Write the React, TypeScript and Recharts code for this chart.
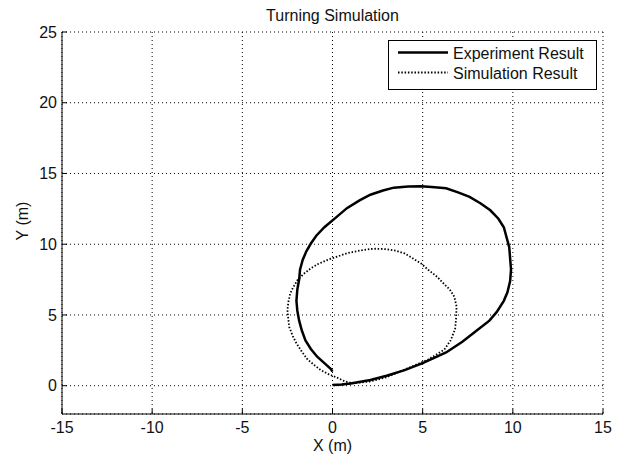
import React from "react";
import {
  CartesianGrid,
  Scatter,
  ScatterChart,
  XAxis,
  YAxis,
} from "recharts";

// experiment trajectory (m)
const expX = [0, 0.5, 1, 2.1, 3, 4, 5, 6.3, 7.2, 8, 8.7, 9.1, 9.5, 9.7, 9.85, 9.9, 9.85, 9.8, 9.5, 9.2, 8.75, 8.2, 7.6, 7, 6.3, 5.5, 4.9, 4.2, 3.4, 2.8, 2.1, 1.5, 0.8, 0.2, -0.45, -0.9, -1.2, -1.45, -1.65, -1.8, -1.85, -1.95, -2, -1.95, -1.85, -1.7, -1.5, -1.2, -0.85, -0.45, -0.1, 0];
const expY = [0.05, 0.08, 0.15, 0.4, 0.7, 1.1, 1.6, 2.35, 3.1, 3.9, 4.6, 5.2, 6, 6.6, 7.4, 8.2, 9, 9.8, 11.2, 11.8, 12.4, 12.9, 13.35, 13.65, 13.95, 14.05, 14.1, 14.08, 14, 13.8, 13.5, 13.1, 12.55, 11.9, 11.2, 10.6, 10.05, 9.5, 8.9, 8.2, 7.5, 6.8, 6, 5.3, 4.6, 3.9, 3.2, 2.6, 2.05, 1.6, 1.2, 1];

// simulated trajectory (m)
const simX = [0.2, 1, 2.1, 3, 4.3, 5.3, 6.2, 6.55, 6.8, 6.85, 6.88, 6.75, 6.5, 6.1, 5.8, 5.3, 4.9, 4.4, 4, 3.5, 3, 2.4, 2.1, 1.5, 0.8, 0.2, -0.3, -0.8, -1.2, -1.6, -1.95, -2.2, -2.35, -2.45, -2.5, -2.45, -2.4, -2.2, -2, -1.7, -1.38, -1, -0.65, -0.2, 0.28, 0.7, 1.1];
const simY = [0.02, 0.15, 0.3, 0.6, 1.3, 1.85, 2.55, 3.2, 4, 4.7, 5.6, 6.3, 6.8, 7.3, 7.7, 8.2, 8.65, 9.05, 9.35, 9.55, 9.65, 9.68, 9.66, 9.55, 9.36, 9.1, 8.88, 8.6, 8.3, 7.9, 7.45, 6.9, 6.5, 5.9, 5.35, 4.7, 4.15, 3.5, 3, 2.4, 1.85, 1.45, 1.1, 0.8, 0.55, 0.3, 0.18];

const xTicks = [-15, -10, -5, 0, 5, 10, 15];
const yTicks = [0, 5, 10, 15, 20, 25];

const expData = expX.map((x, i) => ({ x, y: expY[i] }));
const simData = simX.map((x, i) => ({ x, y: simY[i] }));

const font = "'Liberation Sans', Arial, sans-serif";
const tickStyle = { fill: "#111", fontSize: 16, fontFamily: font };
const noDot = () => <g />;

export default function App() {
  return (
    <div style={{ position: "absolute", left: 0, top: 0, width: 619, height: 457, background: "#fff" }}>
      <ScatterChart
        width={619}
        height={457}
        margin={{ top: 32, right: 16, bottom: 0, left: 15 }}
      >
        <CartesianGrid stroke="#000" strokeDasharray="1 3" />
        <XAxis
          xAxisId={0}
          type="number"
          dataKey="x"
          domain={[-15, 15]}
          ticks={xTicks}
          allowDataOverflow
          height={43}
          stroke="#000"
          tickSize={-5}
          tickMargin={13}
          tick={tickStyle}
        />
        <XAxis
          xAxisId="top"
          orientation="top"
          type="number"
          domain={[-15, 15]}
          ticks={xTicks}
          height={0}
          stroke="#000"
          tickSize={-5}
          tick={false}
        />
        <YAxis
          yAxisId={0}
          type="number"
          dataKey="y"
          domain={[-2, 25]}
          ticks={yTicks}
          allowDataOverflow
          width={47}
          stroke="#000"
          tickSize={-5}
          tickMargin={10}
          tick={tickStyle}
        />
        <YAxis
          yAxisId="right"
          orientation="right"
          type="number"
          domain={[-2, 25]}
          ticks={yTicks}
          width={0}
          stroke="#000"
          tickSize={-5}
          tick={false}
        />
        <Scatter
          name="Experiment Result"
          data={expData}
          line={{ stroke: "#000", strokeWidth: 2.5 }}
          shape={noDot}
          isAnimationActive={false}
        />
        <Scatter
          name="Simulation Result"
          data={simData}
          line={{ stroke: "#000", strokeWidth: 1.8, strokeDasharray: "1.5 1.8" }}
          shape={noDot}
          isAnimationActive={false}
        />
      </ScatterChart>
      <svg
        width={619}
        height={457}
        style={{ position: "absolute", left: 0, top: 0, pointerEvents: "none" }}
        fontFamily={font}
        fontSize={16}
        fill="#111"
      >
        <text x={332.5} y={21} textAnchor="middle">Turning Simulation</text>
        <text x={332.5} y={451} textAnchor="middle">X (m)</text>
        <text x={28} y={221} textAnchor="middle" transform="rotate(-90 28 221)">Y (m)</text>
        <rect x={388.5} y={40.5} width={208} height={49} fill="#fff" stroke="#000" />
        <line x1={398} x2={448} y1={52.5} y2={52.5} stroke="#000" strokeWidth={2.5} />
        <line x1={398} x2={448} y1={72.5} y2={72.5} stroke="#000" strokeWidth={1.8} strokeDasharray="1.5 1.8" />
        <text x={453} y={58.5}>Experiment Result</text>
        <text x={453} y={78.5}>Simulation Result</text>
      </svg>
    </div>
  );
}
